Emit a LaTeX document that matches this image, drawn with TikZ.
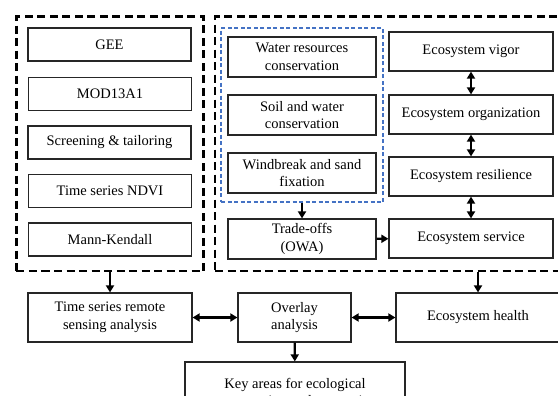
\documentclass[tikz,border=0pt]{standalone}
\usepackage{fontspec}
\setmainfont{Liberation Serif}
\usetikzlibrary{arrows.meta}
\begin{document}
\begin{tikzpicture}[x=1bp,y=-1bp,
  box/.style={draw=black!85, line width=1.2bp, align=center, inner sep=0pt, text=black,
    font=\fontsize{14.5bp}{17.5bp}\selectfont},
  grp/.style={draw=black, line width=2.6bp, dash pattern=on 8bp off 4.5bp, inner sep=0pt},
  blu/.style={draw={rgb,255:red,68;green,114;blue,196}, line width=1.1bp, dash pattern=on 4bp off 2.5bp, inner sep=0pt},
  tip/.tip={Triangle[length=7bp,width=8bp]},
  arr/.style={line width=2.3bp, -tip},
  darr/.style={line width=2.3bp, tip-tip}]
\useasboundingbox (0,0) rectangle (558,395);
\clip (0,0) rectangle (558,395);
% group frames
\node[grp, minimum width=187bp, minimum height=254.5bp] (L) at (110,143.75) {};
\node[grp, minimum width=350bp, minimum height=254.5bp] (R) at (390,143.75) {};
\node[blu, minimum width=162bp, minimum height=174bp] (B) at (302,115) {};
% left column
\node[box, minimum width=163bp, minimum height=33bp] (gee) at (109.5,44.5) {GEE};
\node[box, minimum width=163bp, minimum height=33bp] (mod) at (110,94) {MOD13A1};
\node[box, minimum width=163bp, minimum height=33bp] (scr) at (109.5,142.5) {Screening \& tailoring};
\node[box, minimum width=163bp, minimum height=33bp] (ndvi) at (110,191) {Time series NDVI};
\node[box, minimum width=163bp, minimum height=33bp] (mk) at (110,239.5) {Mann-Kendall};
% services
\node[box, minimum width=148bp, minimum height=40bp] (wat) at (302,57) {Water resources\\conservation};
\node[box, minimum width=148bp, minimum height=40bp] (soil) at (302,115) {Soil and water\\conservation};
\node[box, minimum width=148bp, minimum height=40bp] (wind) at (302,173) {Windbreak and sand\\fixation};
\node[box, minimum width=148bp, minimum height=40bp] (trade) at (302,239) {Trade-offs\\(OWA)};
% right column
\node[box, minimum width=164bp, minimum height=39bp] (vig) at (471,51.5) {Ecosystem vigor};
\node[box, minimum width=164bp, minimum height=39bp] (org) at (471,114.5) {Ecosystem organization};
\node[box, minimum width=164bp, minimum height=39bp] (res) at (471,176.5) {Ecosystem resilience};
\node[box, minimum width=164bp, minimum height=39bp] (serv) at (471,238.5) {Ecosystem service};
% bottom row
\node[box, minimum width=164bp, minimum height=49bp] (ts) at (110,317.5) {Time series remote\\sensing analysis};
\node[box, minimum width=113bp, minimum height=49bp] (ov) at (294.5,317.5) {Overlay\\analysis};
\node[box, minimum width=164bp, minimum height=49bp] (hl) at (478,317.5) {Ecosystem health};
\node[box, minimum width=220bp, minimum height=60bp] (key) at (295,392) {Key areas for ecological\\conservation and restoration};
% connectors
\draw[darr] (vig) -- (org);
\draw[darr] (org) -- (res);
\draw[darr] (res) -- (serv);
\draw[arr] (B.south -| trade.north) -- (trade.north);
\draw[arr] (trade) -- (serv);
\draw[arr] (L.south -| ts.north) -- (ts.north);
\draw[arr] (R.south -| hl.north) -- (hl.north);
\draw[darr] (ts) -- (ov);
\draw[darr] (ov) -- (hl);
\draw[arr] (ov) -- (key);
\end{tikzpicture}
\end{document}
